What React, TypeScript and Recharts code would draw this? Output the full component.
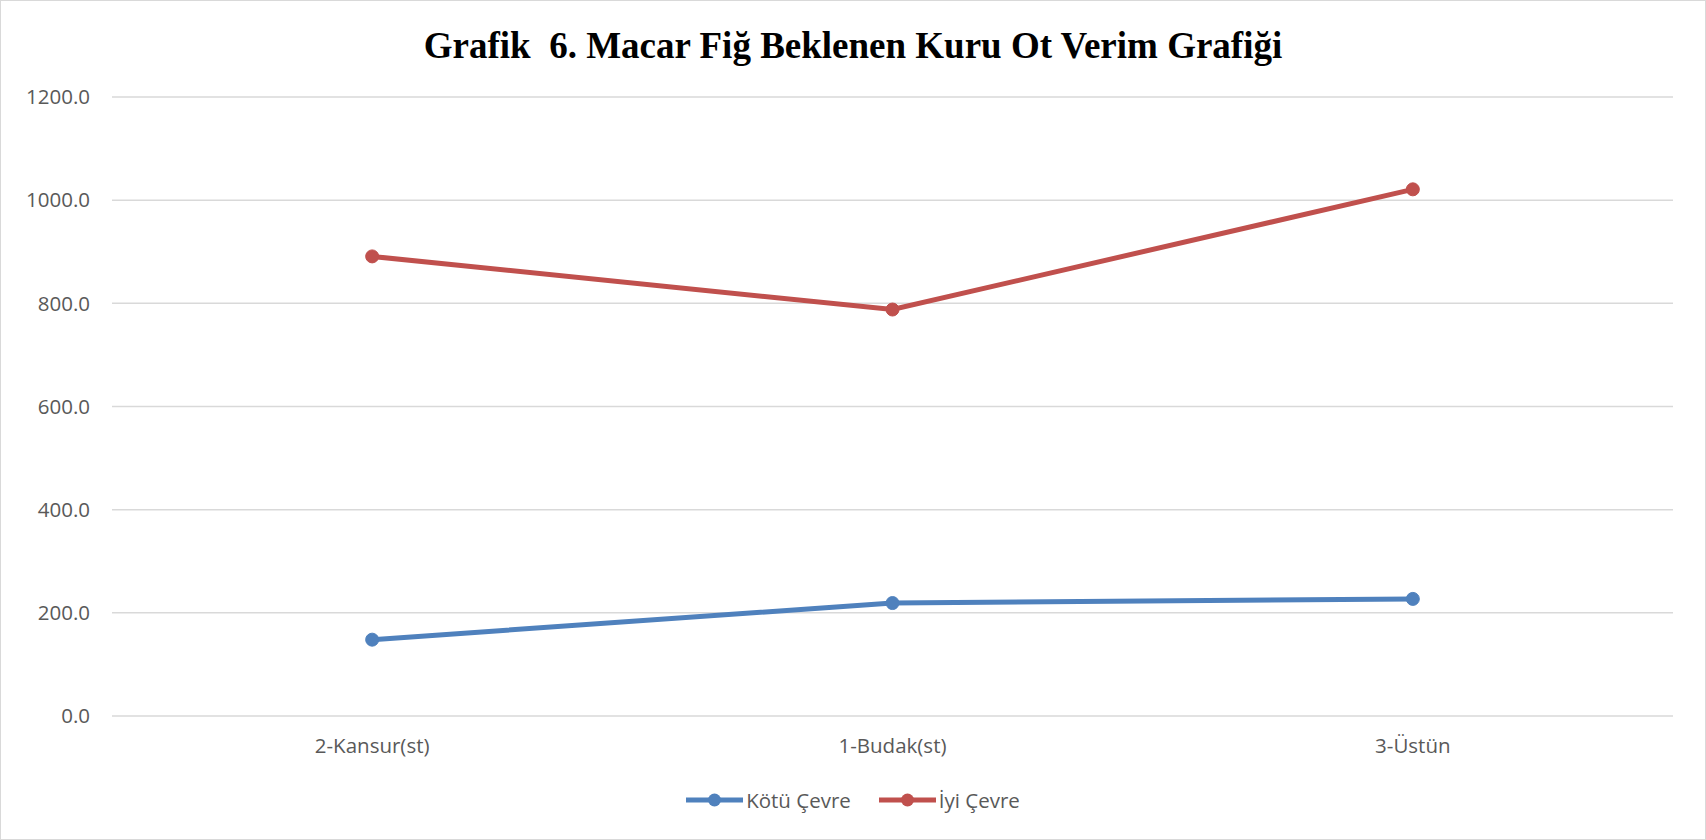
import React from 'react';
import { LineChart, Line, XAxis, YAxis, CartesianGrid } from 'recharts';

const categories = ['2-Kansur(st)', '1-Budak(st)', '3-Üstün'];
const kotuCevre = [148, 219, 227];
const iyiCevre = [891, 788, 1021];
const yTicks = [0, 200, 400, 600, 800, 1000, 1200];
const seriesNames = ['Kötü Çevre', 'İyi Çevre'];
const seriesColors = ['#4F81BD', '#C0504D'];
const title = 'Grafik  6. Macar Fiğ Beklenen Kuru Ot Verim Grafiği';

const data = categories.map((c, i) => ({ name: c, kotu: kotuCevre[i], iyi: iyiCevre[i] }));
const keys = ['kotu', 'iyi'];

const W = 1706;
const H = 840;
const PLOT_W = W - 112 - 33;
const HALF_BAND = PLOT_W / categories.length / 2;
const tickFont = { fill: '#595959', fontSize: 20.5, fontFamily: 'Open Sans, sans-serif' };

export default function App() {
  return (
    <div style={{ position: 'fixed', left: 0, top: 0, width: W, height: H, background: '#fff' }}>
      <div style={{ position: 'absolute', left: 0, top: 0, width: W - 2, height: H - 2, border: '1px solid #D9D9D9' }} />
      <div
        style={{
          position: 'absolute', left: 0, top: 24, width: W, textAlign: 'center',
          fontFamily: '"Liberation Serif", "Times New Roman", serif', fontWeight: 'bold', fontSize: 37, color: '#000', whiteSpace: 'pre',
        }}
      >
        {title}
      </div>
      <div style={{ position: 'absolute', left: 0, top: 0 }}>
        <LineChart width={W} height={H} data={data} margin={{ top: 97, right: 33, bottom: 84, left: 10 }}>
          <CartesianGrid vertical={false} stroke="#D9D9D9" strokeWidth={1.5} />
          <XAxis
            dataKey="name" tickLine={false} axisLine={false} tickSize={0} tickMargin={22} height={40}
            tick={tickFont} interval={0} padding={{ left: HALF_BAND, right: HALF_BAND }}
          />
          <YAxis
            domain={[0, 1200]} ticks={yTicks} tickFormatter={(v: number) => v.toFixed(1)}
            tickLine={false} axisLine={false} tickSize={0} tickMargin={22} width={102} tick={tickFont}
          />
          {keys.map((k, i) => (
            <Line
              key={k} dataKey={k} name={seriesNames[i]} stroke={seriesColors[i]} strokeWidth={5}
              dot={{ r: 6.5, fill: seriesColors[i], stroke: seriesColors[i], strokeWidth: 1 }}
              isAnimationActive={false}
            />
          ))}
        </LineChart>
      </div>
      <div style={{ position: 'absolute', left: 0, top: 786, width: W, display: 'flex', justifyContent: 'center', gap: 28 }}>
        {seriesNames.map((n, i) => (
          <div key={n} style={{ display: 'flex', alignItems: 'center', gap: 3, fontFamily: 'Open Sans, sans-serif', fontSize: 20.5, color: '#595959' }}>
            <svg width={57} height={16}>
              <line x1={0} y1={8} x2={57} y2={8} stroke={seriesColors[i]} strokeWidth={5} strokeLinecap="round" />
              <circle cx={28.5} cy={8} r={6.5} fill={seriesColors[i]} />
            </svg>
            <span>{n}</span>
          </div>
        ))}
      </div>
    </div>
  );
}
